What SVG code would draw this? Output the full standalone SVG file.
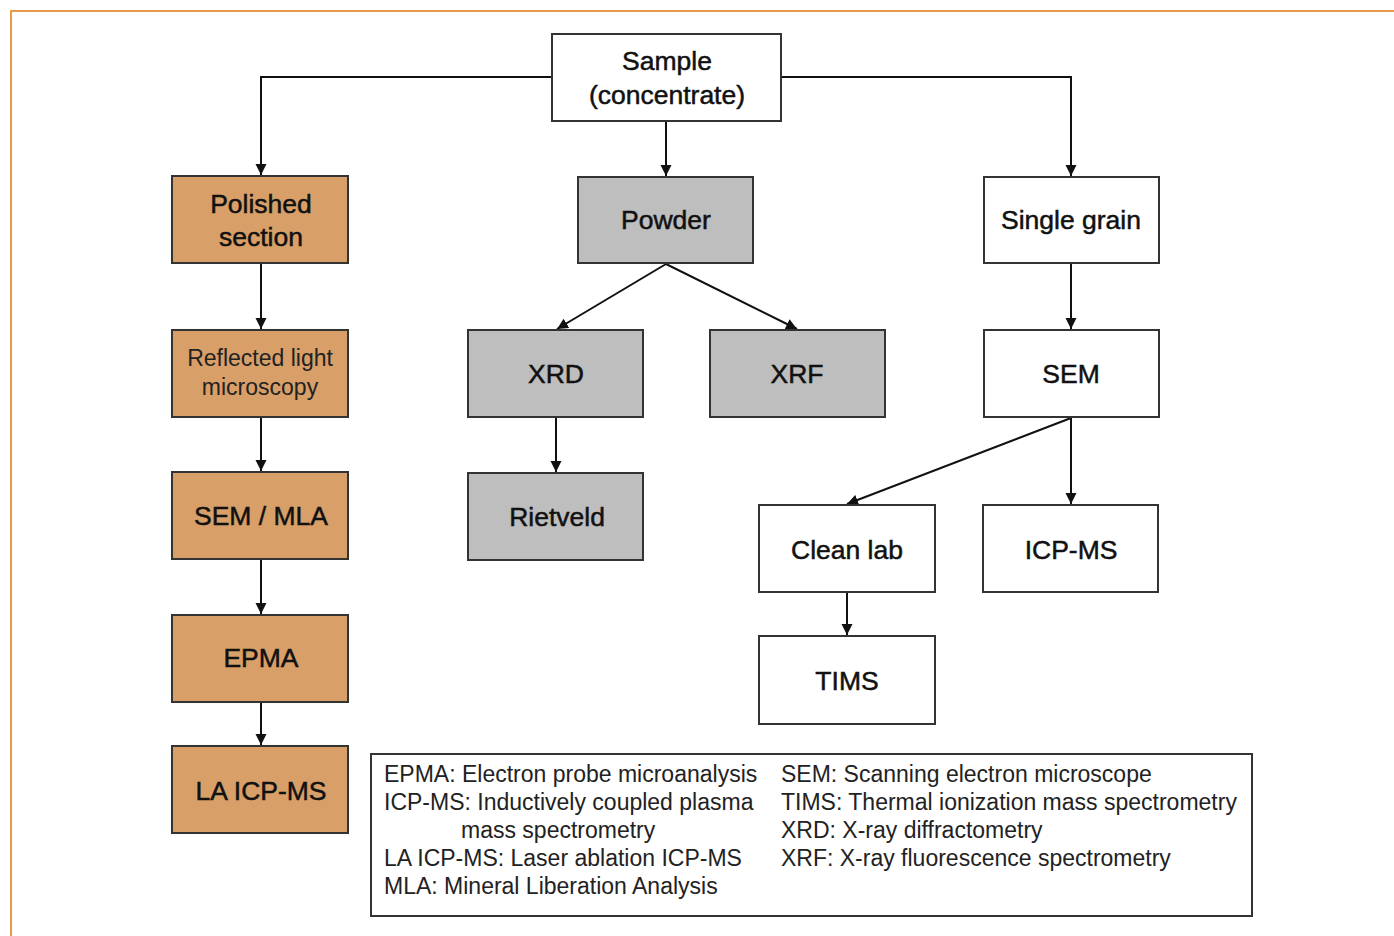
<svg xmlns="http://www.w3.org/2000/svg" width="1394" height="936" viewBox="0 0 1394 936">
<defs>
<marker id="ah" markerWidth="12" markerHeight="12" refX="11" refY="6" orient="auto" markerUnits="userSpaceOnUse">
<path d="M0,0.5 L11,6 L0,11.5 Z" fill="#111"/>
</marker>
<style>
.box{stroke:#333;stroke-width:2}
.tan{fill:#D8A068}
.gray{fill:#BEBEBE}
.white{fill:#fff}
.lbl{font-family:"Liberation Sans",Arial,sans-serif;font-size:26.5px;fill:#111;stroke:#111;stroke-width:0.5;text-anchor:middle}
.sm{font-size:23px;fill:#222;stroke:none}
.leg{font-family:"Liberation Sans",Arial,sans-serif;font-size:23px;fill:#222}
.con{fill:none;stroke:#111;stroke-width:2;marker-end:url(#ah)}
</style>
</defs>
<rect width="1394" height="936" fill="#fff"/>
<path d="M11,936 V11 H1394" fill="none" stroke="#E89A4A" stroke-width="2"/>
<g id="connectors">
<path class="con" d="M552,77 H261 V175"/>
<path class="con" d="M781,77 H1071 V176"/>
<path class="con" d="M666,121 V176"/>
<path class="con" d="M261,263 V329"/>
<path class="con" d="M261,417 V471"/>
<path class="con" d="M261,559 V614"/>
<path class="con" d="M261,702 V745"/>
<path class="con" d="M666,264 L557,329"/>
<path class="con" d="M666,264 L797,329"/>
<path class="con" d="M556,417 V472"/>
<path class="con" d="M1071,263 V329"/>
<path class="con" d="M1071,418 L847,504"/>
<path class="con" d="M1071,418 V504"/>
<path class="con" d="M847,592 V635"/>
</g>
<g id="sample"><rect class="box white" x="552" y="34" width="229" height="87"/><text class="lbl" x="667" y="70">Sample</text><text class="lbl" x="667" y="104">(concentrate)</text></g>
<g id="polished"><rect class="box tan" x="172" y="176" width="176" height="87"/><text class="lbl" x="261" y="213">Polished</text><text class="lbl" x="261" y="246">section</text></g>
<g id="reflected"><rect class="box tan" x="172" y="330" width="176" height="87"/><text class="lbl sm" x="260" y="366">Reflected light</text><text class="lbl sm" x="260" y="395">microscopy</text></g>
<g id="semmla"><rect class="box tan" x="172" y="472" width="176" height="87"/><text class="lbl" x="261" y="525">SEM / MLA</text></g>
<g id="epma"><rect class="box tan" x="172" y="615" width="176" height="87"/><text class="lbl" x="261" y="667">EPMA</text></g>
<g id="laicpms"><rect class="box tan" x="172" y="746" width="176" height="87"/><text class="lbl" x="261" y="800">LA ICP-MS</text></g>
<g id="powder"><rect class="box gray" x="578" y="177" width="175" height="86"/><text class="lbl" x="666" y="229">Powder</text></g>
<g id="xrd"><rect class="box gray" x="468" y="330" width="175" height="87"/><text class="lbl" x="556" y="383">XRD</text></g>
<g id="xrf"><rect class="box gray" x="710" y="330" width="175" height="87"/><text class="lbl" x="797" y="383">XRF</text></g>
<g id="rietveld"><rect class="box gray" x="468" y="473" width="175" height="87"/><text class="lbl" x="557" y="526">Rietveld</text></g>
<g id="singlegrain"><rect class="box white" x="984" y="177" width="175" height="86"/><text class="lbl" x="1071" y="229">Single grain</text></g>
<g id="sem"><rect class="box white" x="984" y="330" width="175" height="87"/><text class="lbl" x="1071" y="383">SEM</text></g>
<g id="cleanlab"><rect class="box white" x="759" y="505" width="176" height="87"/><text class="lbl" x="847" y="559">Clean lab</text></g>
<g id="icpms"><rect class="box white" x="983" y="505" width="175" height="87"/><text class="lbl" x="1071" y="559">ICP-MS</text></g>
<g id="tims"><rect class="box white" x="759" y="636" width="176" height="88"/><text class="lbl" x="847" y="690">TIMS</text></g>
<g id="legend">
<rect x="371" y="754" width="881" height="162" fill="#fff" stroke="#333" stroke-width="2"/>
<text class="leg" x="384" y="782">EPMA: Electron probe microanalysis</text>
<text class="leg" x="384" y="810">ICP-MS: Inductively coupled plasma</text>
<text class="leg" x="461" y="838">mass spectrometry</text>
<text class="leg" x="384" y="866">LA ICP-MS: Laser ablation ICP-MS</text>
<text class="leg" x="384" y="894">MLA: Mineral Liberation Analysis</text>
<text class="leg" x="781" y="782">SEM: Scanning electron microscope</text>
<text class="leg" x="781" y="810">TIMS: Thermal ionization mass spectrometry</text>
<text class="leg" x="781" y="838">XRD: X-ray diffractometry</text>
<text class="leg" x="781" y="866">XRF: X-ray fluorescence spectrometry</text>
</g>
</svg>
